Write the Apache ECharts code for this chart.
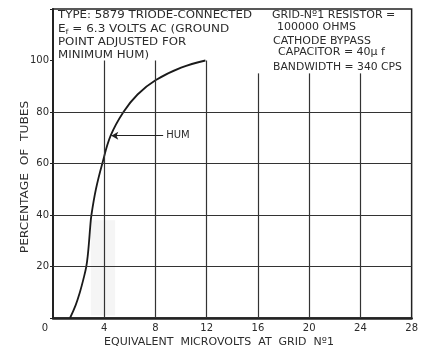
<!DOCTYPE html>
<html>
<head>
<meta charset="utf-8">
<script src="https://cdn.jsdelivr.net/npm/echarts@6/dist/echarts.min.js"></script>
<style>
  html, body { margin: 0; padding: 0; background: #fff; }
  #chart { width: 421px; height: 350px; }
</style>
</head>
<body>
<div id="chart"></div>
<script>
// Cumulative distribution of hum level: percentage of tubes vs. equivalent microvolts at grid No. 1
const microvolts = [1.33, 1.77, 2.1, 2.37, 2.6, 2.73, 2.82, 2.9, 3.0, 3.35, 3.85, 4.5, 5.5, 6.6, 8.0, 10.0, 11.9];
const percentTubes = [0, 5, 10, 15, 20, 25, 30, 35, 40, 50, 60, 70.8, 80, 86.8, 92.3, 97.2, 100];

// Axis ticks and grid rules
const xTicks = [0, 4, 8, 12, 16, 20, 24, 28];
const yTicks = [0, 20, 40, 60, 80, 100];
const xRules = [4, 8, 12, 16, 20, 24];
const xRuleTops = [100, 100, 100, 95, 95, 95];
const yRules = [20, 40, 60, 80];

// Pointer to the curve
const humPoint = [4.55, 70.8];
const humLabelAt = 8.6;

const INK = '#222';
const TEXT = '#2b2b2b';
const FONT = '"DejaVu Sans", sans-serif';

const ruleData = [];
xRules.forEach((x, i) => {
  ruleData.push([{ coord: [x, 0] }, { coord: [x, xRuleTops[i]] }]);
});
yRules.forEach(y => {
  ruleData.push([{ coord: [xTicks[0], y] }, { coord: [xTicks[xTicks.length - 1], y] }]);
});

// Lettering is widely spaced, so the notes are stretched horizontally
function note(text, x, y, stretch, rich) {
  return {
    type: 'text',
    x: x, y: y,
    scaleX: stretch,
    style: {
      text: text,
      font: '10px ' + FONT,
      fill: TEXT,
      verticalAlign: 'middle',
      rich: rich
    }
  };
}

const subF = { s: { fontSize: 7, fontFamily: FONT, fill: TEXT, padding: [6, 0, 0, 0] } };

const chart = echarts.init(document.getElementById('chart'), null, { renderer: 'canvas' });

chart.setOption({
  backgroundColor: '#fff',
  animation: false,
  grid: {
    left: 53, right: 9, top: 9, bottom: 32,
    show: true,
    borderColor: INK,
    borderWidth: 1.5,
    backgroundColor: 'transparent'
  },
  xAxis: {
    type: 'value',
    min: xTicks[0],
    max: xTicks[xTicks.length - 1],
    interval: 4,
    splitLine: { show: false },
    axisTick: { show: false },
    axisLine: { lineStyle: { color: INK, width: 2.5 } },
    axisLabel: {
      margin: 5,
      fontFamily: FONT,
      fontSize: 10,
      color: TEXT,
      formatter: v => v === 0 ? '{z|0}' : String(v),
      rich: { z: { fontFamily: FONT, fontSize: 10, color: TEXT, padding: [0, 16, 0, 0] } }
    }
  },
  yAxis: {
    type: 'value',
    min: 0,
    max: 120,
    interval: 20,
    splitLine: { show: false },
    axisTick: { show: true, length: 3, lineStyle: { color: INK, width: 1 } },
    axisLine: { lineStyle: { color: INK, width: 2 } },
    axisLabel: {
      margin: 4,
      fontFamily: FONT,
      fontSize: 10,
      color: TEXT,
      formatter: v => (yTicks.indexOf(v) > 0 ? String(v) : '')
    }
  },
  series: [
    {
      // faded patch on the sheet
      type: 'line',
      data: [],
      z: 1,
      silent: true,
      markArea: {
        silent: true,
        itemStyle: { color: '#f5f5f5' },
        data: [[{ coord: [2.95, 1] }, { coord: [4.85, 38] }]]
      }
    },
    {
      // grid rules
      type: 'line',
      data: [],
      z: 2,
      silent: true,
      markLine: {
        silent: true,
        symbol: ['none', 'none'],
        label: { show: false },
        lineStyle: { color: '#333', width: 1.2, type: 'solid' },
        data: ruleData
      }
    },
    {
      name: 'Percentage of tubes',
      type: 'line',
      z: 3,
      smooth: 0.4,
      showSymbol: false,
      lineStyle: { color: '#1a1a1a', width: 1.8 },
      data: microvolts.map((x, i) => [x, percentTubes[i]]),
      markLine: {
        silent: true,
        symbol: ['none', 'arrow'],
        symbolSize: [6, 7],
        lineStyle: { color: '#222', width: 1.2, type: 'solid' },
        label: {
          show: true,
          position: 'start',
          formatter: 'HUM',
          fontFamily: FONT,
          fontSize: 10,
          color: TEXT,
          distance: 3
        },
        data: [[{ coord: [humLabelAt, humPoint[1]] }, { coord: humPoint }]]
      }
    }
  ],
  graphic: [
    note('TYPE: 5879 TRIODE-CONNECTED', 58, 15, 1.18),
    note('E{s|f} = 6.3 VOLTS AC (GROUND', 58, 29, 1.2, subF),
    note('POINT ADJUSTED FOR', 58, 42, 1.18),
    note('MINIMUM HUM)', 58, 55, 1.18),
    note('GRID-N\u00BA1 RESISTOR =', 272, 15, 1.1),
    note('100000 OHMS', 277, 27, 1.1),
    note('CATHODE BYPASS', 273, 41, 1.1),
    note('CAPACITOR = 40\u00B5 f', 278, 52, 1.1),
    note('BANDWIDTH = 340 CPS', 273, 67, 1.08),
    {
      type: 'text', x: 219, y: 342, scaleX: 1.1,
      style: {
        text: 'EQUIVALENT  MICROVOLTS  AT  GRID  N\u00BA1',
        font: '10px ' + FONT, fill: TEXT, align: 'center', verticalAlign: 'middle'
      }
    },
    {
      type: 'text', x: 25, y: 177, rotation: Math.PI / 2, scaleX: 1.22,
      style: {
        text: 'PERCENTAGE  OF  TUBES',
        font: '10px ' + FONT, fill: TEXT, align: 'center', verticalAlign: 'middle'
      }
    }
  ]
});
</script>
</body>
</html>
